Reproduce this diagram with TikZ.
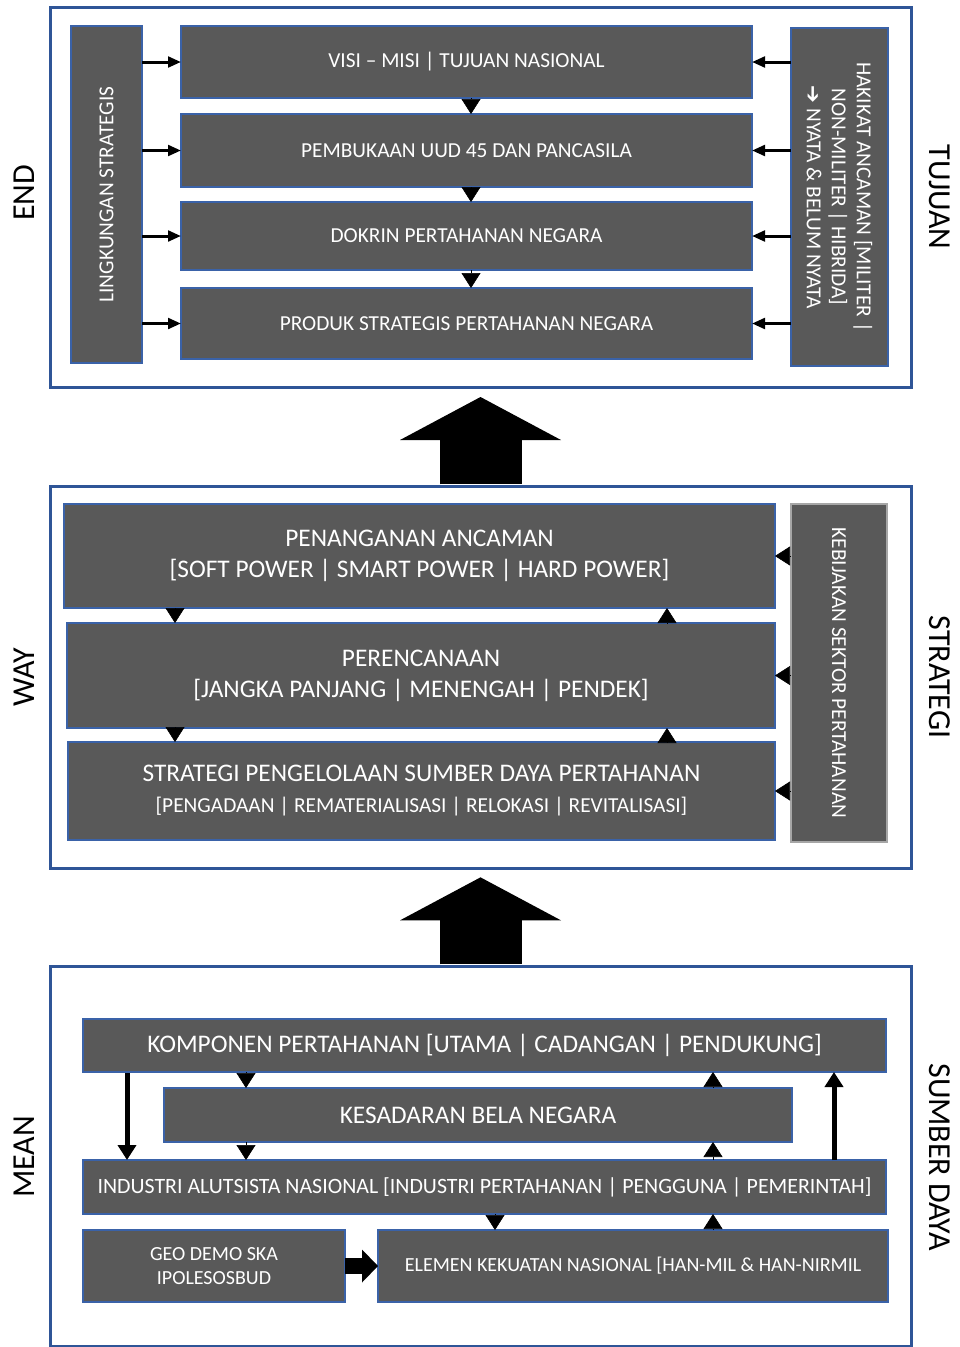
\documentclass[tikz,border=0pt]{standalone}
\usepackage{fontspec}
\setmainfont{Carlito}
\newfontfamily\symfont{DejaVu Sans}
\usetikzlibrary{arrows.meta}
\definecolor{boxgray}{HTML}{595959}
\definecolor{frameblue}{HTML}{2F5597}
\definecolor{edgeblue}{HTML}{3A62A8}
\begin{document}
\begin{tikzpicture}[x=0.75pt,y=-0.75pt,
  span/.style args={#1:#2:#3:#4}{at={({(#1+#3)/2},{(#2+#4)/2})},
     minimum width={(#3-#1)*0.75pt}, minimum height={(#4-#2)*0.75pt}},
  frame/.style={draw=frameblue, line width=2.25pt, fill=white, inner sep=0pt, outer sep=0pt},
  box/.style={draw=edgeblue, line width=0.8pt, fill=boxgray, inner sep=0pt, outer sep=0pt,
     text=white, align=center},
  small/.style={font=\fontsize{16}{19}\selectfont},
  big/.style={font=\fontsize{19}{23.25}\selectfont},
  side/.style={font=\fontsize{24}{28}\selectfont, text=black},
  tri/.style={line width=0.4pt, -{Triangle[length=11.25pt,width=14.25pt]}},
  sidearr/.style={line width=2.25pt, -{Triangle[length=9.75pt,width=8pt]}},
  longarr/.style={line width=3.75pt, -{Triangle[length=11.25pt,width=13.5pt]}},
  blockarr/.style={line width=12pt, -{Triangle[length=12pt,width=24.75pt,line width=0pt]}},
  bigarr/.style={line width=61.5pt, -{Triangle[length=32.25pt,width=120.75pt,line width=0pt]}}
]
\useasboundingbox (0,0) rectangle (960,1347);

% section frames
\node[frame, span=50:7:911:387] (topf) {};
\node[frame, span=50:486:911:868] (midf) {};
\node[frame, span=50:966:911:1346] (botf) {};

% big arrows between the sections
\draw[bigarr, shorten >=7.5pt] ([yshift=1.2pt]midf.north) -- (topf.south);
\draw[bigarr, shorten >=7pt] ([yshift=1.2pt]botf.north) -- (midf.south);

% side labels
\node[side, rotate=90] (lend) at (24,193) {END};
\node[side, rotate=-90] (ltuj) at (940,197) {TUJUAN};
\node[side, rotate=90] (lway) at (24,677) {WAY};
\node[side, rotate=-90] (lstr) at (940,677) {STRATEGI};
\node[side, rotate=90] (lmean) at (24,1157) {MEAN};
\node[side, rotate=-90] (lsum) at (940,1157) {SUMBER DAYA};

% ---- END / TUJUAN ----
\node[box, span=71:26:142:363] (ling) {};
\node[small, text=white, rotate=90] (lingtxt) at (ling) {LINGKUNGAN STRATEGIS};
\node[box, small, span=181:26:752:98] (v1) {VISI – MISI | TUJUAN NASIONAL};
\node[box, small, span=181:114:752:187] (v2) {PEMBUKAAN UUD 45 DAN PANCASILA};
\node[box, small, span=181:202:752:270] (v3) {DOKRIN PERTAHANAN NEGARA};
\node[box, small, span=181:288:752:359] (v4) {PRODUK STRATEGIS PERTAHANAN NEGARA};
\node[box, span=791:28:888:366] (hak) {};
\node[small, text=white, rotate=-90, align=center, font=\fontsize{16}{18.75}\selectfont] (haktxt) at (hak)
  {HAKIKAT ANCAMAN [MILITER |\\NON-MILITER | HIBRIDA]\\{\symfont ➔} NYATA \& BELUM NYATA};

\foreach \b in {v1,v2,v3,v4}{
  \draw[sidearr] (\b.west -| ling.east) -- (\b.west);
  \draw[sidearr] (\b.east -| hak.west) -- (\b.east);
}
\coordinate (ct) at (471,0);
\draw[tri] (v1.south -| ct) -- (v2.north -| ct);
\draw[tri] (v2.south -| ct) -- (v3.north -| ct);
\draw[tri] (v3.south -| ct) -- (v4.north -| ct);

% ---- WAY / STRATEGI ----
\node[box, big, span=64:504:775:608] (p1) {PENANGANAN ANCAMAN\\{}[SOFT POWER | SMART POWER | HARD POWER]};
\node[box, big, span=67:623:775:728] (p2) {PERENCANAAN\\{}[JANGKA PANJANG | MENENGAH | PENDEK]};
\node[box, big, span=68:742:775:840] (p3) {STRATEGI PENGELOLAAN SUMBER DAYA PERTAHANAN\\
  \fontsize{16}{20.5}\selectfont [PENGADAAN | REMATERIALISASI | RELOKASI | REVITALISASI]};
\node[box, draw=gray!70, span=791:504:887:842] (keb) {};
\node[small, text=white, rotate=-90] (kebtxt) at (keb) {KEBIJAKAN SEKTOR PERTAHANAN};

\coordinate (cwd) at (175,0);
\coordinate (cwu) at (667,0);
\draw[tri] (p1.south -| cwd) -- (p2.north -| cwd);
\draw[tri] (p2.south -| cwd) -- (p3.north -| cwd);
\draw[tri] (p2.north -| cwu) -- (p1.south -| cwu);
\draw[tri] (p3.north -| cwu) -- (p2.south -| cwu);
\foreach \b in {p1,p2,p3}{
  \draw[tri] (\b.east -| keb.west) -- (\b.east);
}

% ---- MEAN / SUMBER DAYA ----
\node[box, big, span=83:1019:886:1072] (komp) {KOMPONEN PERTAHANAN [UTAMA | CADANGAN | PENDUKUNG]};
\node[box, big, span=164:1088:792:1142] (kes) {KESADARAN BELA NEGARA};
\node[box, span=83:1160:886:1214, font=\fontsize{16.4}{19}\selectfont] (ind) {INDUSTRI ALUTSISTA NASIONAL [INDUSTRI PERTAHANAN | PENGGUNA | PEMERINTAH]};
\node[box, span=83:1230:345:1302, font=\fontsize{15}{18}\selectfont] (geo) {GEO DEMO SKA\\IPOLESOSBUD};
\node[box, span=378:1230:888:1302, font=\fontsize{15}{18}\selectfont] (elem) {ELEMEN KEKUATAN NASIONAL [HAN-MIL \& HAN-NIRMIL};

\coordinate (cbd) at (246,0);
\coordinate (cbu) at (713,0);
\coordinate (cbe) at (495,0);
\coordinate (cl) at (127,0);
\coordinate (cr) at (834,0);
\draw[tri] (komp.south -| cbd) -- (kes.north -| cbd);
\draw[tri] (kes.south -| cbd) -- (ind.north -| cbd);
\draw[tri] (kes.north -| cbu) -- (komp.south -| cbu);
\draw[tri] (ind.north -| cbu) -- (kes.south -| cbu);
\draw[tri] (elem.north -| cbu) -- (ind.south -| cbu);
\draw[tri] (ind.south -| cbe) -- (elem.north -| cbe);
\draw[longarr] ([yshift=-1pt]komp.south -| cl) -- (ind.north -| cl);
\draw[longarr] (ind.north -| cr) -- (komp.south -| cr);
\draw[blockarr] (geo.east) -- (elem.west);
\end{tikzpicture}
\end{document}
